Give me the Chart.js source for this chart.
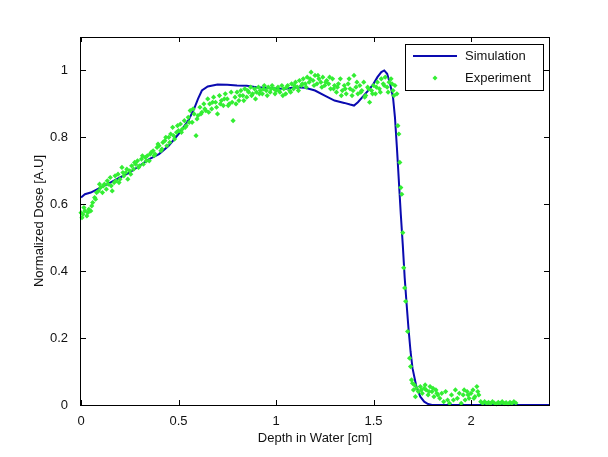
<!DOCTYPE html>
<html>
<head>
<meta charset="utf-8">
<script src="https://cdn.jsdelivr.net/npm/chart.js@4.4.1/dist/chart.umd.min.js"></script>
<style>
  html, body { margin: 0; padding: 0; background: #fff; }
  canvas { display: block; }
</style>
</head>
<body>
<canvas id="chart" width="608" height="457"></canvas>
<script>
// depth [cm] / normalized dose
const simDepth = [0, 0.02, 0.05, 0.1, 0.15, 0.2, 0.25, 0.3, 0.35, 0.4,
  0.45, 0.5, 0.55, 0.58, 0.6, 0.62, 0.65, 0.7, 0.75, 0.8,
  0.85, 0.9, 0.95, 1.0, 1.05, 1.1, 1.15, 1.2, 1.25, 1.3,
  1.35, 1.38, 1.4, 1.42, 1.45, 1.48, 1.5, 1.52, 1.54, 1.555,
  1.57, 1.585, 1.6, 1.61, 1.62, 1.63, 1.64, 1.65, 1.66, 1.67,
  1.68, 1.69, 1.7, 1.72, 1.74, 1.76, 1.78, 1.8, 2.0, 2.4];
const simDose = [0.62, 0.63, 0.635, 0.65, 0.665, 0.68, 0.695, 0.715, 0.735, 0.75,
  0.775, 0.81, 0.85, 0.885, 0.915, 0.94, 0.952, 0.958, 0.957, 0.955,
  0.954, 0.95, 0.948, 0.946, 0.945, 0.95, 0.948, 0.94, 0.925, 0.91,
  0.903, 0.898, 0.895, 0.905, 0.925, 0.945, 0.96, 0.98, 0.995, 1.0,
  0.99, 0.96, 0.92, 0.86, 0.77, 0.67, 0.57, 0.48, 0.38, 0.3,
  0.225, 0.16, 0.11, 0.055, 0.025, 0.01, 0.003, 0, 0, 0];

const experiment = [
  [0.00, 0.575], [0.005, 0.56], [0.01, 0.57], [0.02, 0.58], [0.03, 0.565], [0.04, 0.585], [0.05, 0.58], [0.06, 0.605],
  [0.07, 0.62], [0.08, 0.635], [0.09, 0.64], [0.10, 0.65], [0.11, 0.635], [0.12, 0.66], [0.13, 0.645],
  [0.14, 0.66], [0.15, 0.68], [0.16, 0.64], [0.17, 0.665], [0.18, 0.67], [0.19, 0.69], [0.20, 0.675],
  [0.21, 0.71], [0.22, 0.685], [0.23, 0.695], [0.24, 0.675], [0.25, 0.70], [0.26, 0.715], [0.27, 0.705],
  [0.28, 0.72], [0.29, 0.73], [0.30, 0.715], [0.31, 0.735], [0.32, 0.72], [0.33, 0.74], [0.34, 0.745],
  [0.35, 0.73], [0.36, 0.755], [0.37, 0.76], [0.38, 0.75], [0.39, 0.77], [0.40, 0.775], [0.41, 0.76],
  [0.42, 0.785], [0.43, 0.79], [0.44, 0.775], [0.45, 0.80], [0.46, 0.81], [0.47, 0.83], [0.48, 0.795],
  [0.49, 0.815], [0.50, 0.82], [0.51, 0.84], [0.52, 0.825], [0.53, 0.85], [0.54, 0.835], [0.55, 0.86],
  [0.56, 0.88], [0.57, 0.845], [0.58, 0.87], [0.59, 0.805], [0.60, 0.865],
  [0.61, 0.89], [0.62, 0.875], [0.63, 0.90], [0.64, 0.88], [0.65, 0.915], [0.66, 0.90], [0.67, 0.885],
  [0.68, 0.92], [0.69, 0.905], [0.70, 0.87], [0.71, 0.925], [0.72, 0.91], [0.73, 0.895], [0.74, 0.93],
  [0.75, 0.915], [0.76, 0.90], [0.77, 0.935], [0.78, 0.85], [0.79, 0.92], [0.80, 0.935], [0.81, 0.91],
  [0.82, 0.94], [0.83, 0.925], [0.84, 0.945], [0.85, 0.92], [0.86, 0.935], [0.87, 0.95], [0.88, 0.93],
  [0.89, 0.945], [0.90, 0.935], [0.91, 0.95], [0.92, 0.94], [0.93, 0.93], [0.94, 0.955], [0.95, 0.94],
  [0.96, 0.95], [0.97, 0.935], [0.98, 0.955], [0.99, 0.945], [1.00, 0.94],
  [1.01, 0.95], [1.02, 0.935], [1.03, 0.955], [1.04, 0.945], [1.05, 0.93], [1.06, 0.955], [1.07, 0.94],
  [1.08, 0.96], [1.09, 0.945], [1.10, 0.965], [1.11, 0.95], [1.12, 0.97], [1.13, 0.955], [1.14, 0.975],
  [1.15, 0.96], [1.16, 0.98], [1.17, 0.965], [1.18, 0.995], [1.19, 0.97], [1.20, 0.985], [1.21, 0.96],
  [1.22, 0.975], [1.23, 0.965], [1.24, 0.98], [1.25, 0.955], [1.26, 0.97], [1.27, 0.96], [1.28, 0.945],
  [1.29, 0.975], [1.30, 0.955], [1.31, 0.935], [1.32, 0.96], [1.33, 0.975], [1.34, 0.94], [1.35, 0.955],
  [1.36, 0.93], [1.37, 0.96], [1.38, 0.945], [1.39, 0.925], [1.40, 0.985], [1.41, 0.95], [1.42, 0.93],
  [1.43, 0.955], [1.44, 0.94], [1.45, 0.965], [1.46, 0.925], [1.47, 0.95], [1.48, 0.905], [1.49, 0.94],
  [1.50, 0.955], [1.51, 0.93], [1.52, 0.965], [1.53, 0.945], [1.54, 0.975], [1.55, 0.96], [1.56, 0.98],
  [1.57, 0.95], [1.58, 0.965], [1.59, 0.975], [1.60, 0.94], [1.61, 0.955],
  [1.62, 0.93], [1.625, 0.835], [1.63, 0.81], [1.635, 0.725], [1.64, 0.65], [1.645, 0.63], [1.65, 0.515],
  [1.655, 0.41], [1.66, 0.35], [1.665, 0.31], [1.675, 0.22], [1.685, 0.14], [1.69, 0.115], [1.695, 0.075],
  [1.70, 0.065], [1.705, 0.045], [1.71, 0.06], [1.715, 0.025], [1.72, 0.05], [1.73, 0.04], [1.74, 0.055],
  [1.75, 0.035], [1.76, 0.05], [1.77, 0.045], [1.78, 0.03], [1.79, 0.055], [1.80, 0.04], [1.81, 0.025],
  [1.82, 0.045], [1.83, 0.03], [1.84, 0.02], [1.85, 0.035], [1.86, 0.01], [1.87, 0.04], [1.88, 0.015],
  [1.89, 0.005], [1.90, 0.03], [1.91, 0.015], [1.92, 0.045], [1.93, 0.02], [1.94, 0.035], [1.95, 0.005],
  [1.96, 0.03], [1.97, 0.015], [1.98, 0.04], [1.99, 0.02], [2.00, 0.035], [2.01, 0.045], [2.02, 0.025],
  [2.03, 0.055], [2.04, 0.03], [2.05, 0.01], [2.06, 0.005], [2.07, 0.01], [2.08, 0.005], [2.09, 0.008],
  [2.10, 0.004], [2.11, 0.01], [2.12, 0.006], [2.13, 0.003], [2.14, 0.008], [2.15, 0.005], [2.16, 0.01],
  [2.17, 0.004], [2.18, 0.007], [2.19, 0.003], [2.20, 0.008], [2.21, 0.005], [2.22, 0.01], [2.23, 0.006],
  // second pass of readings (denser scatter)
  [0.015, 0.59], [0.035, 0.575], [0.055, 0.595], [0.075, 0.615], [0.095, 0.66], [0.115, 0.655], [0.135, 0.67],
  [0.155, 0.655], [0.175, 0.685], [0.195, 0.665], [0.215, 0.695], [0.235, 0.705], [0.255, 0.69], [0.275, 0.725],
  [0.295, 0.71], [0.315, 0.745], [0.335, 0.73], [0.355, 0.75], [0.375, 0.745], [0.395, 0.78], [0.415, 0.765],
  [0.435, 0.80], [0.455, 0.785], [0.475, 0.805], [0.495, 0.835], [0.515, 0.815], [0.535, 0.83], [0.555, 0.845],
  [0.575, 0.885], [0.595, 0.855], [0.615, 0.87], [0.635, 0.885], [0.655, 0.875], [0.675, 0.905], [0.695, 0.89],
  [0.715, 0.90], [0.735, 0.915], [0.755, 0.895], [0.775, 0.905], [0.795, 0.90], [0.815, 0.925], [0.835, 0.91],
  [0.855, 0.94], [0.875, 0.925], [0.895, 0.915], [0.915, 0.93], [0.935, 0.945], [0.955, 0.925], [0.975, 0.945],
  [0.995, 0.93], [1.015, 0.94], [1.035, 0.925], [1.055, 0.95], [1.075, 0.935], [1.095, 0.955], [1.115, 0.94],
  [1.135, 0.96], [1.155, 0.95], [1.175, 0.975], [1.195, 0.955], [1.215, 0.985], [1.235, 0.95], [1.255, 0.965],
  [1.275, 0.98], [1.295, 0.945], [1.315, 0.95], [1.335, 0.925], [1.355, 0.945], [1.375, 0.975], [1.395, 0.94],
  [1.415, 0.965], [1.435, 0.935], [1.455, 0.92], [1.475, 0.945], [1.495, 0.93], [1.515, 0.95], [1.535, 0.935],
  [1.555, 0.955], [1.575, 0.935], [1.595, 0.96], [1.605, 0.925],
  [1.745, 0.045], [1.765, 0.06], [1.785, 0.04], [1.805, 0.05], [1.825, 0.035], [1.965, 0.045], [1.985, 0.03],
  [2.015, 0.02], [2.035, 0.04]
];

const xTicks = [0, 0.5, 1, 1.5, 2];
const yTicks = [0, 0.2, 0.4, 0.6, 0.8, 1];
const seriesNames = ['Simulation', 'Experiment'];

const simColor = '#0a0ab0';
const expColor = '#33ee33';
const fontFam = '"Liberation Sans", Arial, sans-serif';

// matlab style box with inward ticks
const boxPlugin = {
  id: 'boxTicks',
  afterDatasetsDraw(chart) {
    const { ctx, chartArea: a, scales } = chart;
    ctx.save();
    ctx.strokeStyle = '#000';
    ctx.lineWidth = 1;
    ctx.strokeRect(a.left - 0.5, a.top + 0.5, a.right - a.left + 1, a.bottom - a.top);
    ctx.beginPath();
    xTicks.forEach(v => {
      const x = Math.round(scales.x.getPixelForValue(v)) + 0.5;
      ctx.moveTo(x, a.bottom); ctx.lineTo(x, a.bottom - 5);
      ctx.moveTo(x, a.top); ctx.lineTo(x, a.top + 5);
    });
    yTicks.forEach(v => {
      const y = Math.round(scales.y.getPixelForValue(v)) + 0.5;
      ctx.moveTo(a.left, y); ctx.lineTo(a.left + 5, y);
      ctx.moveTo(a.right, y); ctx.lineTo(a.right - 5, y);
    });
    ctx.stroke();
    ctx.restore();
  }
};

const legendPlugin = {
  id: 'legendBox',
  afterDraw(chart) {
    const ctx = chart.ctx;
    const bx = 405, by = 44, bw = 138, bh = 46;
    ctx.save();
    ctx.fillStyle = '#fff';
    ctx.fillRect(bx, by, bw, bh);
    ctx.strokeStyle = '#000';
    ctx.lineWidth = 1;
    ctx.strokeRect(bx + 0.5, by + 0.5, bw, bh);
    ctx.strokeStyle = simColor;
    ctx.lineWidth = 2;
    ctx.beginPath();
    ctx.moveTo(413, 56); ctx.lineTo(457, 56);
    ctx.stroke();
    ctx.fillStyle = expColor;
    ctx.beginPath();
    ctx.moveTo(435, 75.5); ctx.lineTo(437.5, 78); ctx.lineTo(435, 80.5); ctx.lineTo(432.5, 78);
    ctx.closePath();
    ctx.fill();
    ctx.fillStyle = '#111';
    ctx.font = '13px ' + fontFam;
    ctx.textBaseline = 'middle';
    ctx.fillText(seriesNames[0], 465, 56);
    ctx.fillText(seriesNames[1], 465, 78);
    ctx.restore();
  }
};

new Chart(document.getElementById('chart'), {
  type: 'scatter',
  data: {
    datasets: [{
      label: seriesNames[0],
      data: simDepth.map((d, i) => ({ x: d, y: simDose[i] })),
      showLine: true,
      borderColor: simColor,
      borderWidth: 2,
      pointRadius: 0,
      tension: 0,
      order: 1
    }, {
      label: seriesNames[1],
      data: experiment.map(p => ({ x: p[0], y: p[1] })),
      backgroundColor: expColor,
      borderWidth: 0,
      pointStyle: 'rectRot',
      pointRadius: 2.6,
      clip: false,
      order: 0
    }]
  },
  options: {
    responsive: false,
    animation: false,
    devicePixelRatio: 1,
    layout: { padding: { top: 37, right: 59, left: 0, bottom: 0 } },
    plugins: { legend: { display: false }, tooltip: { enabled: false } },
    scales: {
      x: {
        type: 'linear',
        min: 0, max: 2.4,
        afterBuildTicks: s => { s.ticks = xTicks.map(v => ({ value: v })); },
        afterFit: s => { s.height = 52; },
        grid: { display: false },
        border: { display: false },
        ticks: { padding: 1, color: '#111', font: { family: fontFam, size: 13 }, maxRotation: 0, callback: v => String(v) },
        title: { display: true, text: 'Depth in Water [cm]', color: '#111', font: { family: fontFam, size: 13 }, padding: { bottom: 11 } }
      },
      y: {
        type: 'linear',
        min: 0, max: 1.1,
        afterBuildTicks: s => { s.ticks = yTicks.map(v => ({ value: v })); },
        afterFit: s => { s.width = 81; },
        grid: { display: false },
        border: { display: false },
        ticks: { padding: 5, color: '#111', font: { family: fontFam, size: 13 }, callback: v => String(v) },
        title: { display: true, text: 'Normalized Dose [A.U]', color: '#111', font: { family: fontFam, size: 13 }, padding: { top: 32 } }
      }
    }
  },
  plugins: [boxPlugin, legendPlugin]
});
</script>
</body>
</html>
